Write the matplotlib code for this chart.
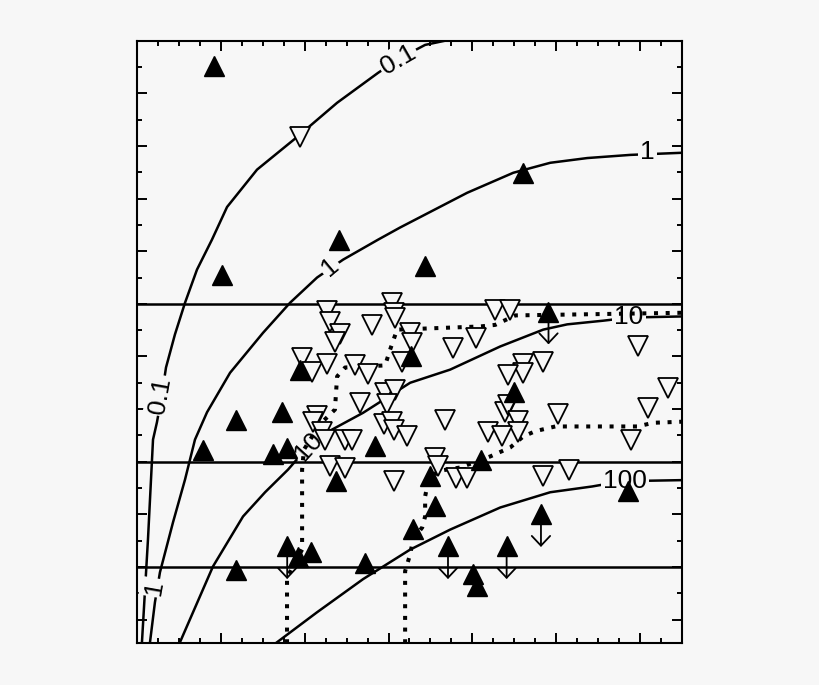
import matplotlib
matplotlib.use('Agg')
import matplotlib.pyplot as plt
from matplotlib.ticker import MultipleLocator

plt.rcParams['font.family'] = ['Liberation Sans', 'DejaVu Sans']

bg = '#f7f7f7'

#--------------------------------------
# data (y axis runs downwards)
#--------------------------------------
# filled triangles
fill_x = [0.92, 4.60, 2.41, 1.01, 3.44, 3.27, 1.94, 4.50, 1.73, 1.18,
          0.79, 1.62, 1.79, 2.84, 4.10, 2.37, 3.50, 3.56, 3.29, 5.86,
          1.92, 2.08, 1.18, 2.72, 4.01, 4.06]
fill_y = [0.48, 2.51, 3.78, 4.45, 4.28, 6.00, 6.25, 6.67, 7.05, 7.20,
          7.77, 7.86, 7.73, 7.71, 7.96, 8.36, 8.28, 8.85, 9.27, 8.55,
          9.82, 9.72, 10.06, 9.93, 10.14, 10.37]

# filled triangles with an upper-limit arrow
lim_x = [4.91, 4.82, 1.79, 3.71, 4.41]
lim_y = [5.15, 9.00, 9.61, 9.61, 9.61]
arrow_len = 0.62

# open (downward) triangles
open_x = [1.94, 2.26, 2.30, 2.42, 2.36, 2.80, 3.04, 3.06, 3.08, 3.26,
          3.28, 1.97, 2.09, 2.26, 2.60, 2.76, 3.16, 3.77, 4.05, 4.27,
          4.45, 4.84, 4.61, 4.61, 4.43, 5.98, 6.34, 6.10, 5.89, 5.02,
          4.39, 4.43, 4.55, 4.55, 4.19, 4.36, 2.66, 2.96, 3.08, 2.98,
          3.68, 2.94, 3.04, 3.06, 3.22, 2.15, 2.10, 2.21, 2.24, 2.48,
          2.56, 2.30, 2.48, 3.06, 3.56, 3.59, 3.80, 3.94, 4.85, 5.15]
open_y = [1.83, 5.13, 5.34, 5.58, 5.72, 5.40, 4.98, 5.17, 5.26, 5.55,
          5.74, 6.02, 6.29, 6.15, 6.17, 6.34, 6.10, 5.83, 5.64, 5.11,
          5.11, 6.10, 6.15, 6.31, 6.36, 5.81, 6.59, 6.97, 7.58, 7.10,
          7.05, 6.93, 7.22, 7.43, 7.43, 7.52, 6.88, 6.69, 6.63, 6.91,
          7.20, 7.29, 7.24, 7.39, 7.52, 7.14, 7.25, 7.43, 7.58, 7.58,
          7.58, 8.09, 8.11, 8.37, 7.92, 8.09, 8.30, 8.30, 8.28, 8.15]

# solid curves
c01_x = [0.056, 0.128, 0.188, 0.235, 0.295, 0.343, 0.450, 0.570, 0.713,
         0.892, 1.072, 1.430, 1.908, 2.386, 2.876, 3.138, 3.437, 3.676]
c01_y = [11.43, 9.47, 7.58, 7.25, 6.72, 6.21, 5.58, 4.98, 4.35,
         3.78, 3.16, 2.45, 1.83, 1.18, 0.61, 0.33, 0.08, 0.0]

c1_x = [0.152, 0.211, 0.271, 0.427, 0.570, 0.689, 0.833, 1.108, 1.502,
        1.824, 2.147, 2.458, 2.876, 3.138, 3.939, 4.489, 4.931, 5.373,
        5.887, 6.5]
c1_y = [11.43, 10.67, 10.10, 9.15, 8.34, 7.58, 7.06, 6.31, 5.55,
        4.98, 4.50, 4.16, 3.78, 3.55, 2.89, 2.51, 2.32, 2.23,
        2.17, 2.13]

c10_x = [0.510, 0.904, 1.263, 1.526, 1.800, 2.040, 2.267, 2.697, 3.258,
         3.736, 4.334, 4.847, 5.134, 5.565, 5.887, 6.5]
c10_y = [11.43, 9.99, 9.04, 8.58, 8.15, 7.71, 7.44, 7.07, 6.50,
         6.25, 5.81, 5.49, 5.39, 5.32, 5.26, 5.24]

c100_x = [1.669, 2.147, 2.697, 3.258, 3.736, 4.334, 4.931, 5.433, 5.792, 6.5]
c100_y = [11.43, 10.86, 10.23, 9.67, 9.29, 8.87, 8.58, 8.47, 8.37, 8.35]

# dotted curves
dA_x = [1.788, 1.788, 1.968, 1.968, 1.99, 2.18, 2.36, 2.386, 2.481,
        2.959, 3.019, 3.102, 4.095, 4.274, 4.513, 6.5]
dA_y = [11.45, 10.20, 9.67, 8.15, 7.77, 7.29, 7.01, 6.38, 6.21,
        6.17, 5.87, 5.49, 5.43, 5.40, 5.22, 5.17]

dB_x = [3.198, 3.198, 3.258, 3.294, 3.402, 3.437, 3.437, 3.461, 3.581,
        3.856, 4.214, 4.453, 4.609, 4.752, 4.991, 5.971, 6.162, 6.5]
dB_y = [11.45, 10.08, 9.76, 9.47, 9.25, 9.04, 8.66, 8.47, 8.18,
        8.11, 7.90, 7.73, 7.52, 7.42, 7.33, 7.33, 7.26, 7.24]

# horizontal lines
hlines = [5, 8, 10]

# curve labels: text, x, y, rotation
lab_txt = ['0.1', '0.1', '1', '1', '1', '10', '10', '100']
lab_x = [3.12, 0.27, 6.09, 2.30, 0.20, 5.87, 2.04, 5.82]
lab_y = [0.37, 6.74, 2.12, 4.30, 10.39, 5.25, 7.71, 8.37]
lab_rot = [30, 80, 0, 40, 80, 0, 48, 0]

#--------------------------------------
fig = plt.figure(figsize=(8.2, 6.85), dpi=100, facecolor=bg)
ax = fig.add_axes([0.1674, 0.0609, 0.6639, 0.8797])
ax.set_facecolor(bg)

ax.set_xlim(0, 6.5)
ax.set_ylim(11.45, 0)

ax.xaxis.set_major_locator(MultipleLocator(1))
ax.xaxis.set_minor_locator(MultipleLocator(0.25))
ax.yaxis.set_major_locator(MultipleLocator(1))
ax.yaxis.set_minor_locator(MultipleLocator(0.5))
ax.tick_params(which='both', direction='in', top=True, right=True,
               labelbottom=False, labelleft=False, width=1.4)
ax.tick_params(which='major', length=7.2)
ax.tick_params(which='minor', length=3.6)
for s in ax.spines.values():
    s.set_linewidth(1.5)

for c_x, c_y in [(c01_x, c01_y), (c1_x, c1_y), (c10_x, c10_y), (c100_x, c100_y)]:
    ax.plot(c_x, c_y, color='black', lw=1.8, zorder=2)

for i in range(len(lab_txt)):
    ax.text(lab_x[i], lab_y[i], lab_txt[i], rotation=lab_rot[i],
            rotation_mode='anchor', ha='center', va='center', size=19,
            zorder=2.2,
            bbox=dict(boxstyle='square,pad=0.08', fc=bg, ec='none'))

for h in hlines:
    ax.axhline(h, color='black', lw=1.8, zorder=2.6)

ax.plot(dA_x, dA_y, color='black', lw=2.9, linestyle=(0, (1, 1.9)),
        dash_capstyle='butt', zorder=3)
ax.plot(dB_x, dB_y, color='black', lw=2.9, linestyle=(0, (1, 1.9)),
        dash_capstyle='butt', zorder=3)

ax.plot(open_x, open_y, 'v', ms=14, mfc=bg, mec='black', mew=1.3,
        linestyle='none', zorder=4)
ax.plot(fill_x, fill_y, '^', ms=14.5, color='black', linestyle='none', zorder=5)
ax.plot(lim_x, lim_y, '^', ms=14.5, color='black', linestyle='none', zorder=5)

for i in range(len(lim_x)):
    ax.annotate('', xy=(lim_x[i], lim_y[i] + arrow_len),
                xytext=(lim_x[i], lim_y[i]),
                arrowprops=dict(arrowstyle='->,head_length=0.35,head_width=0.33',
                                lw=1.3, color='black', mutation_scale=20,
                                shrinkA=0, shrinkB=0),
                zorder=5)

fig.savefig('out.png', dpi=100, facecolor=bg)
